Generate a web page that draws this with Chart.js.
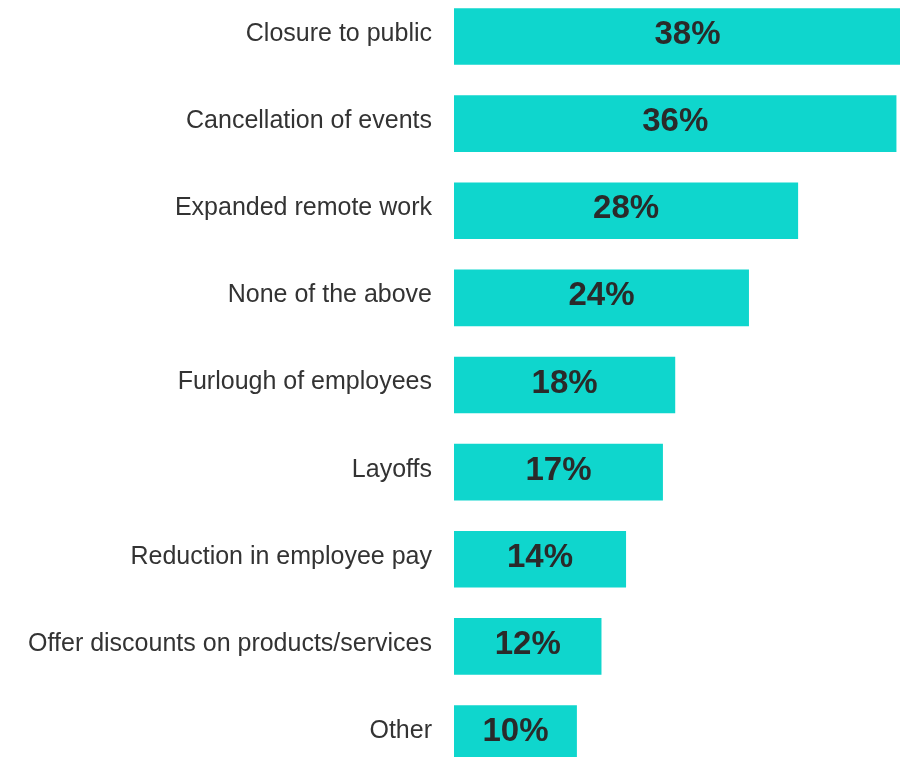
<!DOCTYPE html>
<html>
<head>
<meta charset="utf-8">
<script src="https://cdn.jsdelivr.net/npm/chart.js@4/dist/chart.umd.min.js"></script>
<style>
  html, body { margin: 0; padding: 0; background: #fff; overflow: hidden; }
  body { width: 900px; height: 757px; position: relative; }
  #wrap { position: absolute; left: 0; top: -7px; width: 900px; height: 784px; }
</style>
</head>
<body>
<div id="wrap"><canvas id="chart"></canvas></div>
<script>
const categories = [
  "Closure to public",
  "Cancellation of events",
  "Expanded remote work",
  "None of the above",
  "Furlough of employees",
  "Layoffs",
  "Reduction in employee pay",
  "Offer discounts on products/services",
  "Other",
];
const shares = [38, 36, 28, 24, 18, 17, 14, 12, 10];

const FONT = "'Liberation Sans', Arial, Helvetica, sans-serif";

// percentage printed in the middle of each bar
const barLabels = {
  id: "barLabels",
  afterDatasetsDraw(chart) {
    const ctx = chart.ctx;
    const meta = chart.getDatasetMeta(0);
    ctx.save();
    ctx.font = `bold 33px ${FONT}`;
    ctx.fillStyle = "#2a2a2a";
    ctx.textAlign = "center";
    ctx.textBaseline = "middle";
    meta.data.forEach((bar, i) => {
      const cx = (bar.x + bar.base) / 2;
      ctx.fillText(`${shares[i]}%`, cx, bar.y - 1.5);
    });
    ctx.restore();
  },
};

new Chart(document.getElementById("chart"), {
  type: "bar",
  data: {
    labels: categories,
    datasets: [
      {
        data: shares,
        backgroundColor: "#0fd6cd",
        borderWidth: 0,
        barPercentage: 0.65,
        categoryPercentage: 1,
      },
    ],
  },
  options: {
    indexAxis: "y",
    animation: false,
    responsive: true,
    maintainAspectRatio: false,
    layout: { padding: 0 },
    plugins: {
      legend: { display: false },
      tooltip: { enabled: false },
    },
    scales: {
      x: {
        display: false,
        min: 0,
        max: 36.29,
      },
      y: {
        grid: { display: false, tickLength: 8 },
        border: { display: false },
        afterFit: (scale) => {
          // fixed gutter for the category names, bars run edge to edge vertically
          scale.width = 454;
          scale.paddingTop = 0;
          scale.paddingBottom = 0;
        },
        ticks: {
          color: "#333",
          padding: 14,
          labelOffset: -2.5,
          font: { family: FONT, size: 25 },
        },
      },
    },
  },
  plugins: [barLabels],
});
</script>
</body>
</html>
